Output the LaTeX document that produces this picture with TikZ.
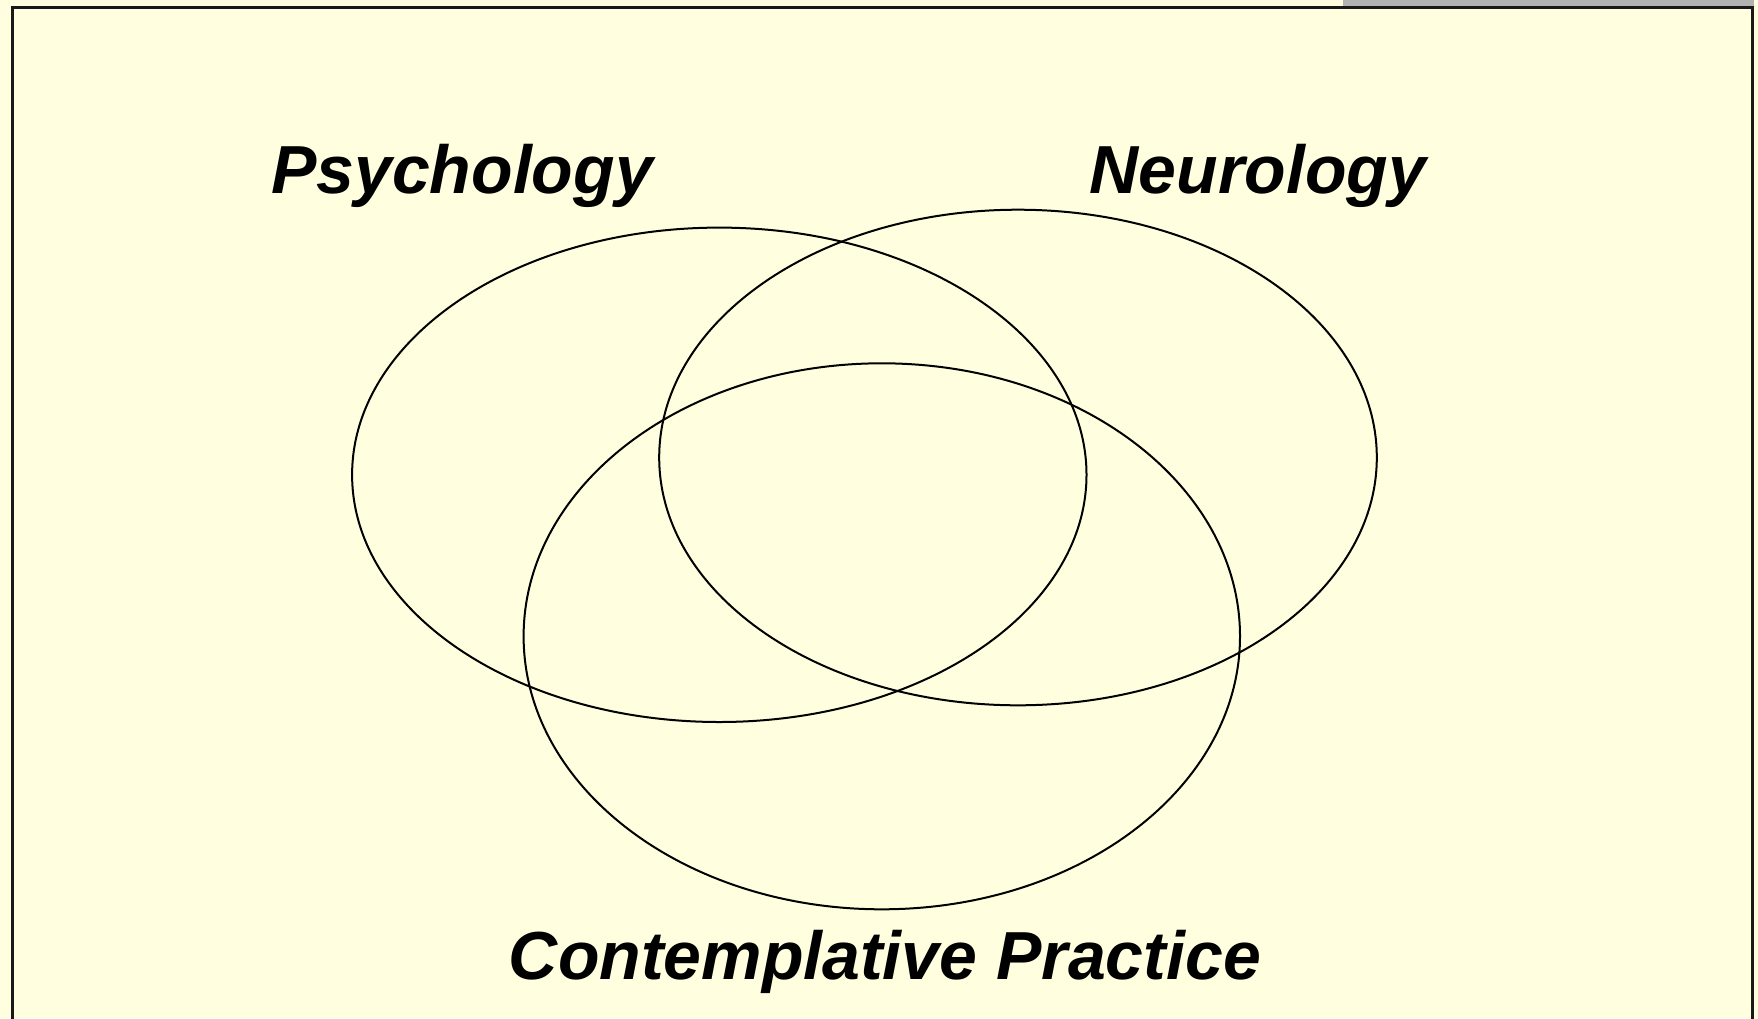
\documentclass[tikz,border=0pt]{standalone}
\usepackage{fontspec}
\setmainfont{Liberation Sans}
\usetikzlibrary{shapes.geometric}
\definecolor{cream}{RGB}{255,255,224}
\definecolor{bargray}{RGB}{178,178,178}
\begin{document}
\begin{tikzpicture}[x=1pt,y=-1pt,
  venn/.style={ellipse, draw=black, line width=2pt, inner sep=0pt},
  lbl/.style={font=\fontsize{68}{80}\selectfont\bfseries\itshape, anchor=base, inner sep=0pt}]
\useasboundingbox (0,0) rectangle (1758,1018);
\fill[cream] (0,0) rectangle (1758,1018);
\fill[bargray] (1343,0) rectangle (1754,6);
\draw[line width=3pt, draw=black!90] (12,7) rectangle (1752,1040);
\node[venn, minimum width=734.4pt, minimum height=494.4pt] (psy) at (719.3,474.8) {};
\node[venn, minimum width=717.6pt, minimum height=495.6pt] (neu) at (1018.0,457.5) {};
\node[venn, minimum width=716.4pt, minimum height=546pt] (con) at (881.8,636.3) {};
\node[lbl] (tpsy) at (462,193) {Psychology};
\node[lbl] (tneu) at (1258,193) {Neurology};
\node[lbl] (tcon) at (885,979) {Contemplative Practice};
\end{tikzpicture}
\end{document}
